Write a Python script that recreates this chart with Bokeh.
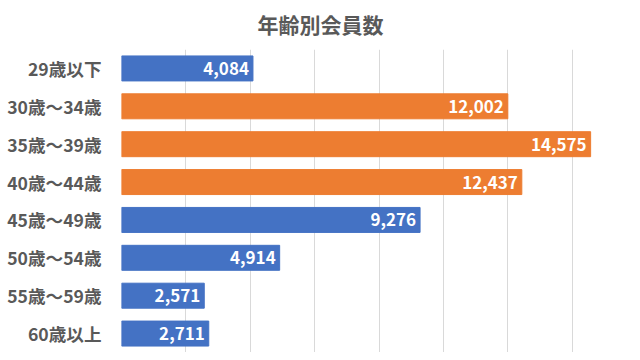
from bokeh.plotting import figure
from bokeh.models import ColumnDataSource, FactorRange, Range1d, FixedTicker
from bokeh.core.properties import value
from bokeh.embed import file_html
from bokeh.resources import INLINE

categories = ["29歳以下", "30歳～34歳", "35歳～39歳", "40歳～44歳",
              "45歳～49歳", "50歳～54歳", "55歳～59歳", "60歳以上"]
members = [4084, 12002, 14575, 12437, 9276, 4914, 2571, 2711]
highlighted = ["30歳～34歳", "35歳～39歳", "40歳～44歳"]
grid_ticks = [0, 2000, 4000, 6000, 8000, 10000, 12000, 14000, 16000]
title_text = "年齢別会員数"

BLUE = "#4472C4"
ORANGE = "#ED7D31"
FONT = "Noto Sans CJK JP"

colors = [ORANGE if c in highlighted else BLUE for c in categories]
labels = [f"{v:,}" for v in members]

src = ColumnDataSource(dict(cat=categories, val=members, color=colors, label=labels))

p = figure(width=636, height=352, output_backend="svg", toolbar_location=None,
           y_range=FactorRange(*list(reversed(categories)), range_padding=0),
           x_range=Range1d(0, 16000),
           min_border_left=121, min_border_right=0, min_border_bottom=0,
           min_border_top=48)

p.title.text = title_text
p.title.text_font = FONT
p.title.text_font_size = "21px"
p.title.text_font_style = "bold"
p.title.text_color = "#595959"
p.title.align = "left"
p.title.offset = 136
p.title.vertical_align = "top"
p.title.standoff = 17

p.hbar(y="cat", right="val", left=0, height=0.66, color="color", source=src)
p.text(x="val", y="cat", text="label", source=src, x_offset=-4,
       text_align="right", text_baseline="middle", text_color="white",
       text_font=value(FONT), text_font_size="17px", text_font_style="bold")

p.outline_line_color = None
p.xaxis.visible = False
p.xgrid.ticker = FixedTicker(ticks=grid_ticks)
p.xgrid.grid_line_color = "#D9D9D9"
p.ygrid.grid_line_color = None

ax = p.yaxis[0]
ax.axis_line_color = None
ax.major_tick_line_color = None
ax.minor_tick_line_color = None
ax.major_tick_out = 0
ax.major_tick_in = 0
ax.major_label_standoff = 20
ax.major_label_text_font = FONT
ax.major_label_text_font_size = "17.6px"
ax.major_label_text_font_style = "bold"
ax.major_label_text_color = "#595959"

open("out.html", "w").write(file_html(p, INLINE))
